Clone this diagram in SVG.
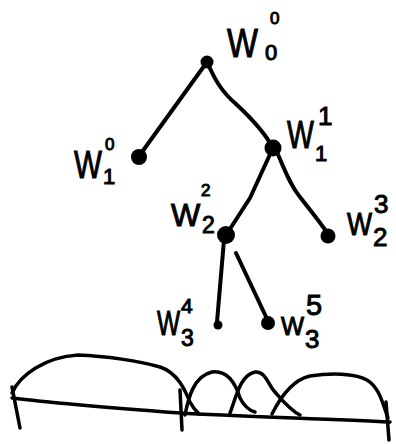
<svg xmlns="http://www.w3.org/2000/svg" width="396" height="444" viewBox="0 0 396 444">
<style>
.ln{fill:none;stroke:#000;stroke-width:4;stroke-linecap:round;stroke-linejoin:round}
.bl{fill:none;stroke:#000;stroke-width:3.5;stroke-linecap:round;stroke-linejoin:round}
.dot{fill:#000}
text{font-family:"Liberation Sans","DejaVu Sans",sans-serif;fill:#000;stroke:#000;stroke-width:1}
</style>
<rect width="396" height="444" fill="#fff"/>
<g id="connectors">
<path class="ln" d="M207,62 L142,152"/>
<path class="ln" d="M208,64 C215,80 222,92 236,104 C250,117 265,133 273,148"/>
<path class="ln" d="M272,150 L250,198 L228,232"/>
<path class="ln" d="M276,150 C285,170 290,185 300,197 C310,210 320,222 328,234"/>
<path class="ln" d="M224,240 L217,322"/>
<path class="ln" d="M236,253 L268,321"/>
</g>
<g id="W00">
<circle class="dot" cx="207" cy="62" r="6.5"/>
<text transform="translate(227,57) scale(0.82,1)" font-size="40">W</text>
<text x="270" y="24" font-size="17">0</text>
<text x="265" y="60" font-size="22">0</text>
</g>
<g id="W10">
<circle class="dot" cx="139" cy="157" r="8"/>
<text transform="translate(74,178) scale(0.76,1)" font-size="39">W</text>
<text x="105" y="150" font-size="17">0</text>
<text x="103" y="184" font-size="22">1</text>
</g>
<g id="W11">
<circle class="dot" cx="273" cy="148" r="8.5"/>
<text transform="translate(287,148) scale(0.73,1)" font-size="39">W</text>
<text x="318" y="125" font-size="26">1</text>
<text x="315" y="161" font-size="22">1</text>
</g>
<g id="W22">
<circle class="dot" cx="226" cy="235" r="9"/>
<text x="171" y="226" font-size="31">W</text>
<text x="201" y="196" font-size="17">2</text>
<text x="202" y="233" font-size="23">2</text>
</g>
<g id="W23">
<circle class="dot" cx="328" cy="236" r="7.5"/>
<text transform="translate(347,235) scale(0.83,1)" font-size="32">W</text>
<text x="374" y="213" font-size="26">3</text>
<text x="373" y="246" font-size="26">2</text>
</g>
<g id="W34">
<circle class="dot" cx="218" cy="325" r="4.5"/>
<text transform="translate(157,335) scale(0.7,1)" font-size="35">W</text>
<text x="181" y="313" font-size="21">4</text>
<text x="181" y="346" font-size="23">3</text>
</g>
<g id="W35">
<circle class="dot" cx="268" cy="323" r="7"/>
<text transform="translate(281,335) scale(0.94,1)" font-size="26">W</text>
<text x="306" y="315" font-size="29">5</text>
<text x="305" y="348" font-size="26">3</text>
</g>
<g id="intervals">
<path class="bl" d="M12,398 C60,404 140,410 180,413 C230,416 330,419 390,422"/>
<path class="bl" d="M12,387 L20,428"/>
<path class="bl" d="M180,390 L182,430"/>
<path class="bl" d="M386,402 L389,440"/>
<path class="bl" d="M12,393 C20,375 45,357 78,355 C105,356 140,361 160,367 C178,373 185,390 190,402 C193,408 196,411 199,414"/>
<path class="bl" d="M185,415 C188,400 193,376 212,372 C228,370 236,385 240,398 C244,406 248,410 255,412"/>
<path class="bl" d="M230,413 C236,398 240,375 255,372 C266,371 268,385 275,392 C282,400 290,410 300,415"/>
<path class="bl" d="M272,414 C280,398 292,380 310,376 C330,373 355,373 367,380 C380,388 383,405 388,418"/>
</g>
</svg>
